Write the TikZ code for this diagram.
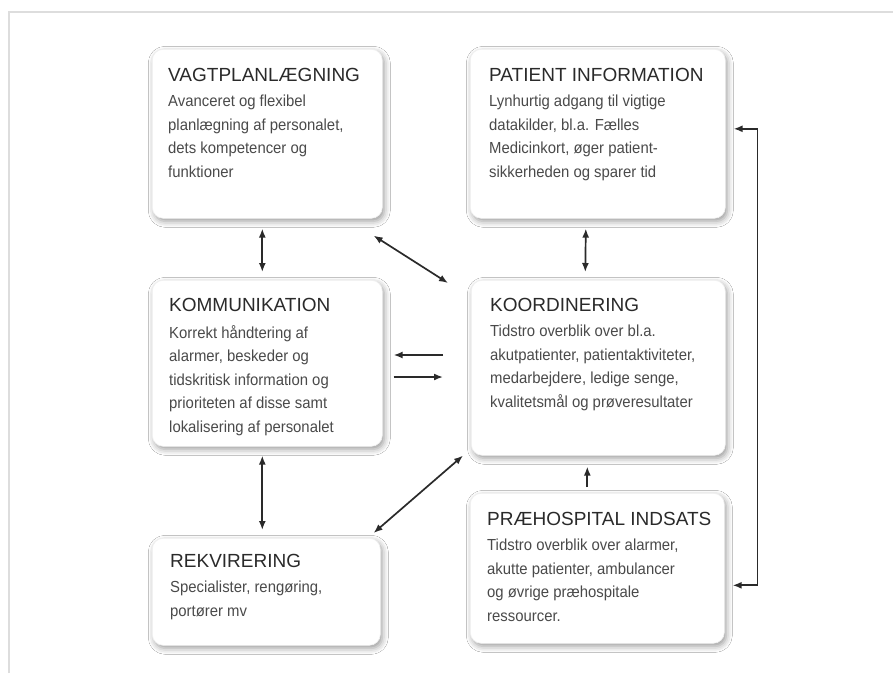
\documentclass[tikz,border=0pt]{standalone}
\usepackage{fontspec}
\setmainfont{Liberation Sans}
\newfontfamily\bodyfont{Liberation Sans}[FakeStretch=0.93]
\usetikzlibrary{arrows.meta,calc,shadows.blur}
\definecolor{ttl}{HTML}{2A2A2A}
\definecolor{bdy}{HTML}{4A4A4A}
\definecolor{arr}{HTML}{2A2A2A}
\definecolor{frm}{HTML}{DDDDDD}
\begin{document}
\begin{tikzpicture}[x=1pt,y=-1pt,
  panel/.style={rounded corners=11pt, fill=white, draw=black!6, line width=0.6pt,
    blur shadow={shadow xshift=2pt, shadow yshift=-3pt, shadow blur radius=6pt, shadow opacity=40},
    inner sep=0pt, anchor=north west},
  ttltext/.style={anchor=base west, inner sep=0pt, text=ttl, font=\fontsize{19}{22}\selectfont},
  bdytext/.style={anchor=north west, inner sep=0pt, text=bdy, align=left, font=\bodyfont\fontsize{16}{23.5}\selectfont},
  dbl/.style={{Latex[length=9pt,width=7pt]}-{Latex[length=9pt,width=7pt]}, line width=1.7pt, draw=arr},
  one/.style={-{Latex[length=9pt,width=7pt]}, line width=1.7pt, draw=arr}]
\useasboundingbox (0,0) rectangle (893,673);
\fill[white] (0,0) rectangle (893,673);
\draw[frm, line width=2.5pt] (9,673) -- (9,12) -- (893,12);

% boxes
\node[panel, minimum width=230pt, minimum height=169pt] (vagt) at (152,49) {};
\node[panel, minimum width=255pt, minimum height=169pt] (pat) at (470,49) {};
\node[panel, minimum width=230pt, minimum height=166pt] (komm) at (152,280) {};
\node[panel, minimum width=254pt, minimum height=175pt] (koord) at (471,280) {};
\node[panel, minimum width=228pt, minimum height=107pt] (rekv) at (152,538) {};
\node[panel, minimum width=254pt, minimum height=150pt] (prae) at (470,493) {};

% texts
\node[ttltext] (vagtT) at ($(vagt.north west)+(16,32)$) {VAGTPLANLÆGNING};
\node[bdytext] (vagtB) at ($(vagt.north west)+(16,46)$) {Avanceret og flexibel\\planlægning af personalet,\\dets kompetencer og\\funktioner};
\node[ttltext] (patT) at ($(pat.north west)+(19,32)$) {PATIENT INFORMATION};
\node[bdytext] (patB) at ($(pat.north west)+(19,46)$) {Lynhurtig adgang til vigtige\\datakilder, bl.a. Fælles\\Medicinkort, øger patient-\\sikkerheden og sparer tid};
\node[ttltext] (kommT) at ($(komm.north west)+(17,31)$) {KOMMUNIKATION};
\node[bdytext] (kommB) at ($(komm.north west)+(17,45)$) {Korrekt håndtering af\\alarmer, beskeder og\\tidskritisk information og\\prioriteten af disse samt\\lokalisering af personalet};
\node[ttltext] (koordT) at ($(koord.north west)+(19,31)$) {KOORDINERING};
\node[bdytext] (koordB) at ($(koord.north west)+(19,45)$) {Tidstro overblik over bl.a.\\akutpatienter, patientaktiviteter,\\medarbejdere, ledige senge,\\kvalitetsmål og prøveresultater};
\node[ttltext] (rekvT) at ($(rekv.north west)+(18,29)$) {REKVIRERING};
\node[bdytext] (rekvB) at ($(rekv.north west)+(18,43)$) {Specialister, rengøring,\\portører mv};
\node[ttltext] (praeT) at ($(prae.north west)+(17,32)$) {PRÆHOSPITAL INDSATS};
\node[bdytext] (praeB) at ($(prae.north west)+(17,46)$) {Tidstro overblik over alarmer,\\akutte patienter, ambulancer\\og øvrige præhospitale\\ressourcer.};

% connectors
\draw[dbl] ($(vagt.south)+(-5,10)$) -- ($(komm.north)+(-5,-8)$);
\draw[dbl] ($(pat.south)+(-12,10)$) -- ($(koord.north)+(-13,-8)$);
\draw[dbl] ($(vagt.south east)+(-9,17)$) -- ($(koord.north west)+(-23,3)$);
\draw[one] ($(koord.north west)+(-28,75)$) -- ($(komm.north east)+(11,75)$);
\draw[one] ($(komm.north east)+(11,97)$) -- ($(koord.north west)+(-28,97)$);
\draw[dbl] ($(koord.south west)+(-8,0)$) -- ($(rekv.north east)+(-7,-5)$);
\draw[dbl] ($(komm.south)+(-5,9)$) -- ($(rekv.north)+(-4,-8)$);
\draw[one] ($(prae.north)+(-10,-6)$) -- ($(koord.south)+(-11,11)$);
\draw[dbl] ($(prae.east)+(8,17)$) -- ++(25,0) |- ($(pat.east)+(8,-5)$);
\end{tikzpicture}
\end{document}
